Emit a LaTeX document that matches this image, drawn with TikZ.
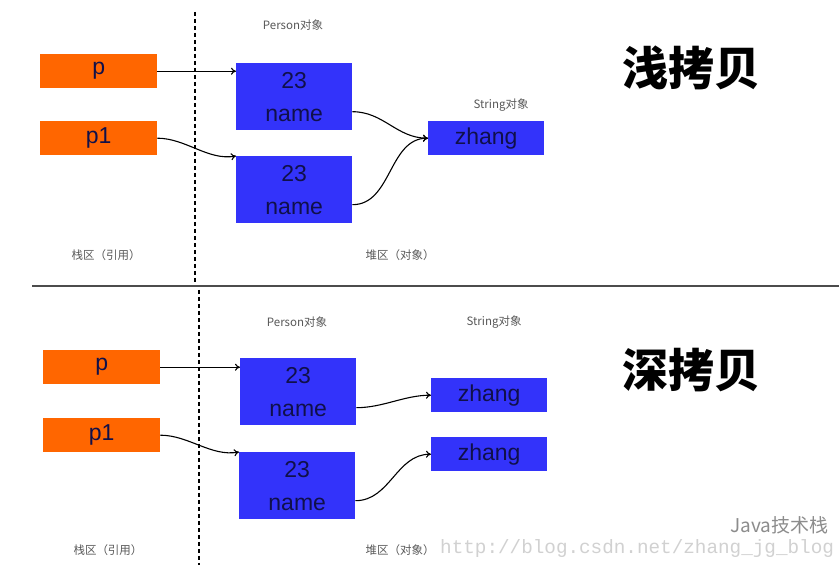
\documentclass[tikz,border=0pt]{standalone}
\usepackage{fontspec}
\setmainfont{Liberation Sans}
\newfontfamily\cjk{Noto Sans CJK SC}
\newfontfamily\urlfont{Liberation Mono}
\usetikzlibrary{arrows.meta}
\definecolor{boxorange}{HTML}{FF6600}
\definecolor{boxblue}{HTML}{3333FA}
\definecolor{boxtext}{HTML}{10104A}
\begin{document}
\begin{tikzpicture}[x=1pt,y=-1pt,
  refbox/.style={fill=boxorange,minimum width=117pt,minimum height=34pt,inner sep=0pt,anchor=north west,text=boxtext,font=\fontsize{23}{26}\selectfont},
  objbox/.style={fill=boxblue,minimum width=116pt,minimum height=67pt,inner sep=0pt,anchor=north west,align=center,text=boxtext,font=\fontsize{23}{33}\selectfont},
  strbox/.style={fill=boxblue,minimum width=116pt,minimum height=34pt,inner sep=0pt,anchor=north west,text=boxtext,font=\fontsize{23}{26}\selectfont},
  smalllab/.style={text=black!65,font=\cjk\fontsize{11.5}{13}\selectfont,inner sep=0pt},
  title/.style={font=\cjk\bfseries\fontsize{46}{50}\selectfont,inner sep=0pt},
  divider/.style={dashed,dash pattern=on 4pt off 3pt,line width=1.2pt},
  link/.style={-{To[length=5pt,width=7pt]},line width=1.1pt}]
\useasboundingbox (0,0) rectangle (839,585);
\fill[white] (0,0) rectangle (839,585);

% ---------- shallow copy ----------
\draw[divider] (195,12) -- (195,283);
\draw[black!70,line width=1.5pt] (32,286) -- (839,286);

\node[refbox] (p)  at (40,54)  {p};
\node[refbox] (p1) at (40,121) {p1};
\node[objbox] (b1) at (236,63)  {23\\name};
\node[objbox] (b2) at (236,156) {23\\name};
\node[strbox] (s)  at (428,121) {zhang};

\node[smalllab] (lperson) at (293,25)  {Person对象};
\node[smalllab] (lstring) at (501,105) {String对象};
\node[smalllab] (lstack)  at (106,255) {栈区（引用）};
\node[smalllab] (lheap)   at (400,255) {堆区（对象）};
\node[title]    (t1)      at (691,68)  {浅拷贝};

\draw[link] (p.east) -- (p.east -| b1.west);
\draw[link] (p1.east) to[out=0,in=190,looseness=0.9] (b2.north west);
\draw[link] ([yshift=-15pt]b1.east) to[out=0,in=180,looseness=1] (s.west);
\draw[link] ([yshift=-15pt]b2.east) to[out=0,in=180,looseness=1] (s.west);

% ---------- deep copy ----------
\draw[divider] (199,290) -- (199,565);

\node[refbox] (q)  at (43,350) {p};
\node[refbox] (q1) at (43,418) {p1};
\node[objbox] (c1) at (240,358) {23\\name};
\node[objbox] (c2) at (239,452) {23\\name};
\node[strbox] (s1) at (431,378) {zhang};
\node[strbox] (s2) at (431,437) {zhang};

\node[smalllab] (mperson) at (297,322) {Person对象};
\node[smalllab] (mstring) at (494,322) {String对象};
\node[smalllab] (mstack)  at (108,550) {栈区（引用）};
\node[smalllab] (mheap)   at (400,550) {堆区（对象）};
\node[title]    (t2)      at (691,370) {深拷贝};

\draw[link] (q.east) -- (q.east -| c1.west);
\draw[link] (q1.east) to[out=0,in=190,looseness=0.9] (c2.north west);
\draw[link] ([yshift=-16pt]c1.east) to[out=0,in=180,looseness=0.9] (s1.west);
\draw[link] ([yshift=-15pt]c2.east) to[out=0,in=180,looseness=1] (s2.west);

% ---------- watermarks ----------
\node[anchor=west,inner sep=0pt,text=black!18,font=\urlfont\fontsize{19.3}{22}\selectfont] (url) at (440,549) {http://blog.csdn.net/zhang\_jg\_blog};
\node[anchor=west,inner sep=0pt,text=black!45,font=\cjk\fontsize{19}{22}\selectfont] (wm) at (730,525) {Java技术栈};
\end{tikzpicture}
\end{document}
